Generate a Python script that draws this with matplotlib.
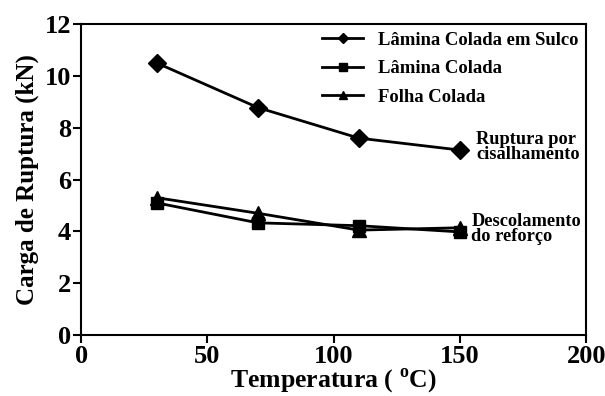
import matplotlib.pyplot as plt

plt.rcParams['font.family'] = ['Liberation Serif', 'DejaVu Serif']
plt.rcParams['font.weight'] = 'bold'
plt.rcParams['mathtext.fontset'] = 'custom'
plt.rcParams['mathtext.rm'] = 'Liberation Serif:bold'

temperatura = [30, 70, 110, 150]
sulco = [10.5, 8.78, 7.6, 7.14]
lamina = [5.1, 4.33, 4.22, 3.98]
folha = [5.3, 4.7, 4.05, 4.14]

fig = plt.figure(figsize=(6.05, 3.96), dpi=100)
ax = fig.add_axes([0.134, 0.154, 0.835, 0.785])

ax.plot(temperatura, sulco, color='black', lw=2, marker='D', ms=9, label='Lâmina Colada em Sulco')
ax.plot(temperatura, lamina, color='black', lw=2, marker='s', ms=9, label='Lâmina Colada')
ax.plot(temperatura, folha, color='black', lw=2, marker='^', ms=10, label='Folha Colada')

ax.set_xlim(0, 200)
ax.set_ylim(0, 12)
ax.set_xticks([0, 50, 100, 150, 200])
ax.set_yticks([0, 2, 4, 6, 8, 10, 12])
ax.tick_params(labelsize=19, width=1.5, length=6, direction='out', pad=1)
for s in ax.spines.values():
    s.set_linewidth(1.5)

ax.set_xlabel('Temperatura ( $^{\\mathrm{o}}$C)', fontsize=18.5, fontweight='bold', labelpad=-1)
ax.set_ylabel('Carga de Ruptura (kN)', fontsize=18, fontweight='bold', labelpad=4)

ax.text(156.5, 7.25, 'Ruptura por\ncisalhamento', fontsize=13.2, ha='left', va='center',
        linespacing=0.85)
ax.text(154.5, 4.1, 'Descolamento\ndo reforço', fontsize=13.2, ha='left', va='center',
        linespacing=0.85)

leg = ax.legend(loc='upper right', frameon=False, fontsize=13.4, handlelength=2.2,
                markerscale=0.6, borderaxespad=0.0, labelspacing=0.62,
                handletextpad=0.8)

fig.savefig('out.png', dpi=100)
